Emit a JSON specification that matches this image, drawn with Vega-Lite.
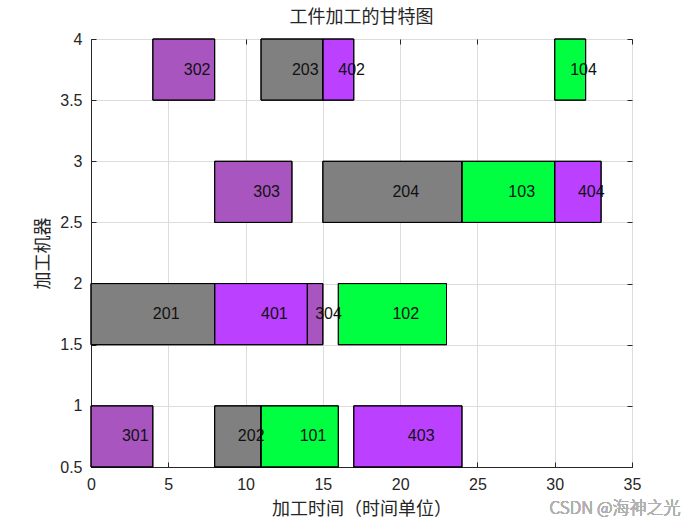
{
  "$schema": "https://vega.github.io/schema/vega-lite/v6.json",
  "width": 541,
  "height": 428,
  "autosize": "none",
  "padding": {"left": 91, "top": 39, "right": 68, "bottom": 58},
  "background": "white",
  "config": {
    "view": {"stroke": "#262626", "strokeWidth": 1},
    "font": "Liberation Sans"
  },
  "title": {
    "text": "工件加工的甘特图",
    "font": "Noto Sans CJK SC",
    "fontSize": 18,
    "fontWeight": "normal",
    "color": "#262626",
    "offset": 4
  },
  "data": {
    "values": [
      {"label": "301", "job": 3, "start": 0, "end": 4, "lo": 0.5, "hi": 1},
      {"label": "202", "job": 2, "start": 8, "end": 11, "lo": 0.5, "hi": 1},
      {"label": "101", "job": 1, "start": 11, "end": 16, "lo": 0.5, "hi": 1},
      {"label": "403", "job": 4, "start": 17, "end": 24, "lo": 0.5, "hi": 1},
      {"label": "201", "job": 2, "start": 0, "end": 8, "lo": 1.5, "hi": 2},
      {"label": "401", "job": 4, "start": 8, "end": 14, "lo": 1.5, "hi": 2},
      {"label": "304", "job": 3, "start": 14, "end": 15, "lo": 1.5, "hi": 2},
      {"label": "102", "job": 1, "start": 16, "end": 23, "lo": 1.5, "hi": 2},
      {"label": "303", "job": 3, "start": 8, "end": 13, "lo": 2.5, "hi": 3},
      {"label": "204", "job": 2, "start": 15, "end": 24, "lo": 2.5, "hi": 3},
      {"label": "103", "job": 1, "start": 24, "end": 30, "lo": 2.5, "hi": 3},
      {"label": "404", "job": 4, "start": 30, "end": 33, "lo": 2.5, "hi": 3},
      {"label": "302", "job": 3, "start": 4, "end": 8, "lo": 3.5, "hi": 4},
      {"label": "203", "job": 2, "start": 11, "end": 15, "lo": 3.5, "hi": 4},
      {"label": "402", "job": 4, "start": 15, "end": 17, "lo": 3.5, "hi": 4},
      {"label": "104", "job": 1, "start": 30, "end": 32, "lo": 3.5, "hi": 4}
    ]
  },
  "transform": [
    {"calculate": "(datum.start + datum.end) / 2", "as": "xm"},
    {"calculate": "(datum.lo + datum.hi) / 2", "as": "ym"}
  ],
  "resolve": {"axis": {"x": "independent", "y": "independent"}},
  "layer": [
    {
      "mark": {"type": "rule", "opacity": 0},
      "encoding": {
        "x": {
          "field": "start", "type": "quantitative",
          "scale": {"domain": [0, 35], "nice": false, "zero": false},
          "axis": {
            "orient": "top", "values": [0,5,10,15,20,25,30,35],
            "labels": false, "title": null, "grid": false,
            "domain": false, "tickSize": -5, "tickColor": "#262626"
          }
        },
        "y": {
          "field": "lo", "type": "quantitative",
          "scale": {"domain": [0.5, 4], "nice": false, "zero": false},
          "axis": {
            "orient": "right", "values": [0.5,1,1.5,2,2.5,3,3.5,4],
            "labels": false, "title": null, "grid": false,
            "domain": false, "tickSize": -5, "tickColor": "#262626"
          }
        }
      }
    },
    {
      "mark": {"type": "rect", "stroke": "black", "strokeWidth": 1},
      "encoding": {
        "x": {
          "field": "start", "type": "quantitative",
          "scale": {"domain": [0, 35], "nice": false, "zero": false},
          "axis": {
            "values": [0,5,10,15,20,25,30,35],
            "title": "加工时间（时间单位）",
            "titleFont": "Noto Sans CJK SC", "titleFontSize": 18,
            "titleFontWeight": "normal", "titleColor": "#262626",
            "titlePadding": 8,
            "labelFontSize": 16, "labelColor": "#262626", "labelPadding": 14,
            "labelFlush": false, "labelOverlap": false,
            "grid": true, "gridColor": "#dcdcdc",
            "domainColor": "#262626", "tickColor": "#262626", "tickSize": -5
          }
        },
        "x2": {"field": "end"},
        "y": {
          "field": "lo", "type": "quantitative",
          "scale": {"domain": [0.5, 4], "nice": false, "zero": false},
          "axis": {
            "values": [0.5,1,1.5,2,2.5,3,3.5,4],
            "format": "~g",
            "title": "加工机器",
            "titleFont": "Noto Sans CJK SC", "titleFontSize": 18,
            "titleFontWeight": "normal", "titleColor": "#262626",
            "titlePadding": 7,
            "labelFontSize": 16, "labelColor": "#262626", "labelPadding": 14,
            "labelFlush": false, "labelOverlap": false,
            "grid": true, "gridColor": "#dcdcdc",
            "domainColor": "#262626", "tickColor": "#262626", "tickSize": -5
          }
        },
        "y2": {"field": "hi"},
        "fill": {
          "field": "job", "type": "nominal",
          "scale": {"domain": [1, 2, 3, 4], "range": ["#00ff40", "#808080", "#a855c0", "#bb40ff"]},
          "legend": null
        }
      }
    },
    {
      "mark": {"type": "text", "align": "left", "baseline": "middle", "fontSize": 16, "color": "#111111", "font": "Liberation Sans"},
      "encoding": {
        "x": {"field": "xm", "type": "quantitative", "axis": null},
        "y": {"field": "ym", "type": "quantitative", "axis": null},
        "text": {"field": "label"}
      }
    },
    {
      "mark": {"type": "rect", "stroke": "black", "strokeWidth": 1, "fill": null, "fillOpacity": 0},
      "encoding": {
        "x": {"field": "start", "type": "quantitative", "axis": null},
        "x2": {"field": "end"},
        "y": {"field": "lo", "type": "quantitative", "axis": null},
        "y2": {"field": "hi"}
      }
    },
    {
      "mark": {"type": "text", "align": "center", "baseline": "middle", "fontSize": 17, "fontWeight": 300, "color": "#b0b0b0", "font": "Noto Sans CJK SC", "dx": -17, "dy": 42, "clip": false},
      "encoding": {
        "x": {"datum": 35, "type": "quantitative", "axis": null},
        "y": {"datum": 0.5, "type": "quantitative", "axis": null},
        "text": {"value": "CSDN @海神之光"}
      }
    }
  ]
}
